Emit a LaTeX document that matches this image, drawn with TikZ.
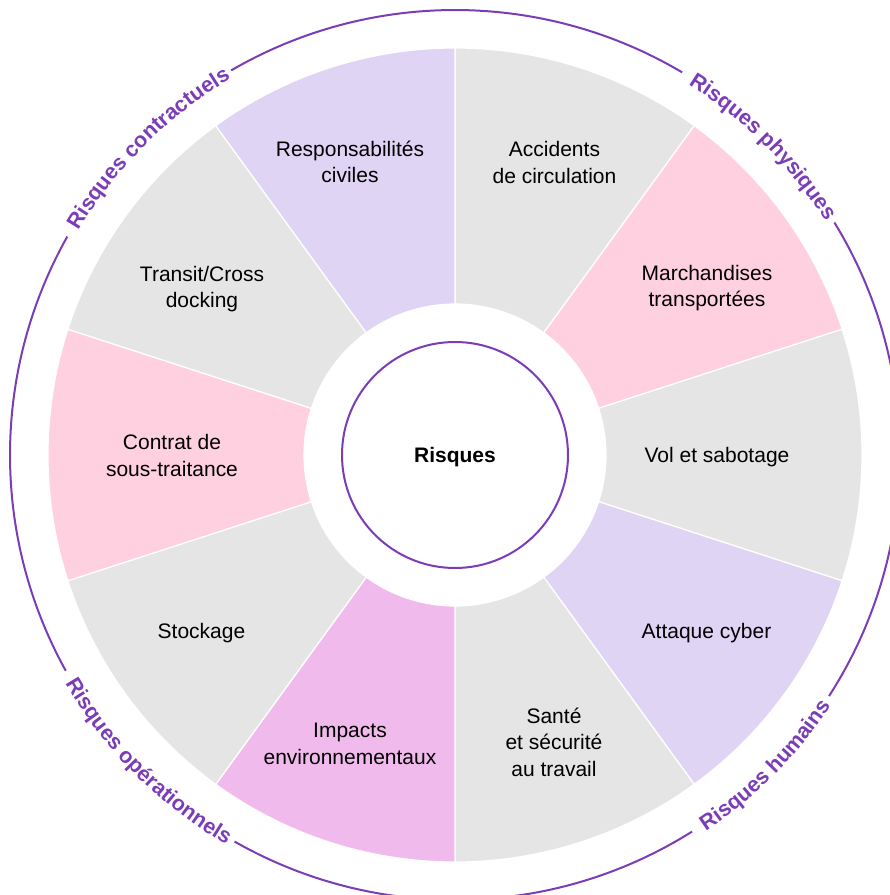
\documentclass[tikz,border=0pt]{standalone}
\usepackage{fontspec}
\setmainfont{Liberation Sans}
\usetikzlibrary{decorations.text}
\definecolor{ringc}{RGB}{123,60,184}
\definecolor{segg}{RGB}{229,229,229}
\definecolor{segp}{RGB}{255,208,223}
\definecolor{segl}{RGB}{224,212,245}
\definecolor{segm}{RGB}{240,187,236}
\newcommand{\ringfont}{\fontsize{21.5}{25}\selectfont\bfseries}
\begin{document}
\begin{tikzpicture}[x=1pt,y=1pt,
  seg/.style={draw=white, line width=1.2pt},
  lbl/.style={align=center, font=\fontsize{21}{26.5}\selectfont, text=black, inner sep=0pt},
  ring/.style={draw=ringc, line width=2pt},
  ringlabel/.style={decorate, decoration={text along path, text={|\ringfont|#1}, text align=center, text color=ringc}}
  ]
\useasboundingbox (-455,-440) rectangle (435,455);
\def\Ro{407}\def\Ri{151}
\foreach \a/\c in {54/segg,18/segp,-18/segg,-54/segl,-90/segg,-126/segm,-162/segg,162/segp,126/segg,90/segl}{
  \pgfmathsetmacro{\b}{\a+36}
  \path[seg, fill=\c] (\a:\Ri) -- (\a:\Ro) arc[start angle=\a, end angle=\b, radius=\Ro] -- (\b:\Ri) arc[start angle=\b, end angle=\a, radius=\Ri] -- cycle;
}
\fill[white] (0,0) circle (\Ri);
\node[circle, draw=ringc, line width=2pt, minimum size=226pt, inner sep=0pt, text depth=0pt, font=\fontsize{21}{25}\selectfont\bfseries] (core) at (0,0) {Risques};

% segment labels
\node[lbl] (acc) at (99.5,292.5) {Accidents\\de circulation};
\node[lbl] (mar) at (252,167) {Marchandises\\transportées};
\node[lbl] (vol) at (262,-2) {Vol et sabotage};
\node[lbl] (cyb) at (251.5,-178.5) {Attaque cyber};
\node[lbl] (san) at (99,-287) {Santé\\et sécurité\\au travail};
\node[lbl] (imp) at (-105,-289) {Impacts\\environnementaux};
\node[lbl] (sto) at (-253.5,-178) {Stockage};
\node[lbl] (con) at (-283,-0.5) {Contrat de\\sous-traitance};
\node[lbl] (tra) at (-253,166) {Transit/Cross\\docking};
\node[lbl] (res) at (-105,293) {Responsabilités\\civiles};

% outer ring arcs
\draw[ring] (59.3:445) arc[start angle=59.3, end angle=120.2, radius=445];
\draw[ring] (150.6:445) arc[start angle=150.6, end angle=209, radius=445];
\draw[ring] (240.3:445) arc[start angle=240.3, end angle=302.2, radius=445];
\draw[ring] (327.2:445) arc[start angle=327.2, end angle=391.5, radius=445];

% ring labels
\path[ringlabel={Risques contractuels}] (165:438) arc[start angle=165, end angle=105, radius=438];
\path[ringlabel={Risques physiques}] (75:438) arc[start angle=75, end angle=15, radius=438];
\path[ringlabel={Risques humains}] (-75:452) arc[start angle=-75, end angle=-15, radius=452];
\path[ringlabel={Risques opérationnels}] (-165:452) arc[start angle=-165, end angle=-105, radius=452];
\end{tikzpicture}
\end{document}
